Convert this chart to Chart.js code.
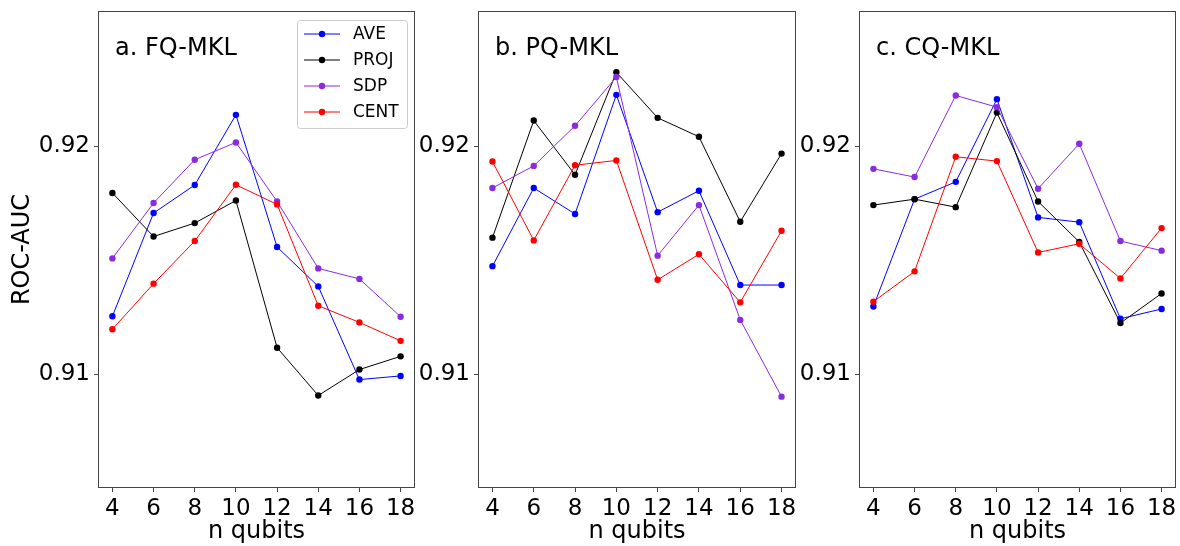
<!DOCTYPE html>
<html>
<head>
<meta charset="utf-8">
<script src="https://cdn.jsdelivr.net/npm/chart.js@4.4.0/dist/chart.umd.min.js"></script>
<style>
  body { margin: 0; background: #fff; }
  #wrap { position: relative; width: 1180px; height: 546px; background: #fff; }
  #wrap canvas { position: absolute; top: 0; }
</style>
</head>
<body>
<div id="wrap">
  <canvas id="c1" width="420" height="546" style="left:0px"></canvas>
  <canvas id="c2" width="380" height="546" style="left:420px"></canvas>
  <canvas id="c3" width="380" height="546" style="left:800px"></canvas>
</div>
<script>
// number of qubits on the x axis
const qubits = [4, 6, 8, 10, 12, 14, 16, 18];
const yTicks = [0.91, 0.92];

const seriesNames = ["AVE", "PROJ", "SDP", "CENT"];
const seriesColors = ["#0000ff", "#000000", "#8a2be2", "#ff0000"];

// a. FQ-MKL
const fqAve  = [0.91254, 0.91707, 0.91830, 0.92138, 0.91558, 0.91385, 0.90976, 0.90992];
const fqProj = [0.91795, 0.91604, 0.91663, 0.91762, 0.91116, 0.90906, 0.91020, 0.91078];
const fqSdp  = [0.91508, 0.91751, 0.91941, 0.92017, 0.91758, 0.91464, 0.91418, 0.91252];
const fqCent = [0.91197, 0.91397, 0.91584, 0.91831, 0.91745, 0.91300, 0.91227, 0.91146];

// b. PQ-MKL
const pqAve  = [0.91474, 0.91817, 0.91703, 0.92226, 0.91711, 0.91805, 0.91391, 0.91391];
const pqProj = [0.91599, 0.92113, 0.91875, 0.92325, 0.92125, 0.92042, 0.91669, 0.91968];
const pqSdp  = [0.91817, 0.91914, 0.92090, 0.92304, 0.91520, 0.91742, 0.91238, 0.90901];
const pqCent = [0.91933, 0.91587, 0.91917, 0.91938, 0.91414, 0.91526, 0.91315, 0.91629];

// c. CQ-MKL
const cqAve  = [0.91297, 0.91768, 0.91844, 0.92207, 0.91688, 0.91667, 0.91243, 0.91286];
const cqProj = [0.91742, 0.91768, 0.91733, 0.92148, 0.91758, 0.91580, 0.91224, 0.91354];
const cqSdp  = [0.91901, 0.91865, 0.92223, 0.92172, 0.91814, 0.92011, 0.91584, 0.91542];
const cqCent = [0.91318, 0.91451, 0.91954, 0.91935, 0.91534, 0.91572, 0.91420, 0.91641];

const FONT = "'DejaVu Sans', sans-serif";

// frame around the plot area + panel label + legend
const panelDecor = {
  id: "panelDecor",
  afterDraw(chart, args, opts) {
    const ctx = chart.ctx;
    const a = chart.chartArea;
    ctx.save();
    ctx.strokeStyle = "#444";
    ctx.lineWidth = 1;
    ctx.strokeRect(Math.round(a.left) + 0.5, Math.round(a.top) + 0.5,
      Math.round(a.right - a.left) - 1, Math.round(a.bottom - a.top) - 1);

    ctx.fillStyle = "#000";
    ctx.font = "24px " + FONT;
    ctx.textBaseline = "alphabetic";
    ctx.textAlign = "left";
    ctx.fillText(opts.label, a.left + 17, a.top + 44);

    if (opts.legend) {
      const bx = a.right - 8 - 110, by = a.top + 9, bw = 110, bh = 108;
      ctx.fillStyle = "rgba(255,255,255,0.8)";
      ctx.strokeStyle = "#cccccc";
      ctx.beginPath();
      ctx.roundRect(bx + 0.5, by + 0.5, bw, bh, 3);
      ctx.fill();
      ctx.stroke();
      ctx.font = "17px " + FONT;
      ctx.textBaseline = "middle";
      chart.data.datasets.forEach((ds, i) => {
        const cy = by + 14 + i * 26;
        ctx.strokeStyle = ds.borderColor;
        ctx.lineWidth = 1;
        ctx.beginPath();
        ctx.moveTo(bx + 7, cy);
        ctx.lineTo(bx + 43, cy);
        ctx.stroke();
        ctx.fillStyle = ds.borderColor;
        ctx.beginPath();
        ctx.arc(bx + 25, cy, 3.2, 0, Math.PI * 2);
        ctx.fill();
        ctx.fillStyle = "#000";
        ctx.fillText(ds.label, bx + 56, cy + 1);
      });
    }
    ctx.restore();
  }
};

function makePanel(id, label, values, opt) {
  const ctx = document.getElementById(id).getContext("2d");
  const datasets = values.map((vals, i) => ({
    label: seriesNames[i],
    data: qubits.map((q, k) => ({ x: q, y: vals[k] })),
    borderColor: seriesColors[i],
    backgroundColor: seriesColors[i],
    borderWidth: 1,
    pointRadius: 3.2,
    pointBorderWidth: 0,
    tension: 0,
    order: values.length - i,
  }));

  return new Chart(ctx, {
    type: "line",
    data: { datasets: datasets },
    plugins: [panelDecor],
    options: {
      responsive: false,
      animation: false,
      devicePixelRatio: 1,
      layout: { padding: { top: 11, right: opt.padRight, bottom: 0, left: 0 } },
      plugins: {
        legend: { display: false },
        tooltip: { enabled: false },
        panelDecor: { label: label, legend: opt.legend },
      },
      scales: {
        x: {
          type: "linear",
          min: 3.3,
          max: 18.7,
          afterBuildTicks: (axis) => { axis.ticks = qubits.map((v) => ({ value: v })); },
          afterFit: (axis) => { axis.height = 58; axis.paddingLeft = 0; axis.paddingRight = 0; },
          grid: { drawOnChartArea: false, drawTicks: true, tickLength: 4, color: "#444" },
          border: { display: false },
          ticks: { color: "#000", font: { family: FONT, size: 23 }, padding: 3, maxRotation: 0 },
          title: {
            display: true,
            text: "n qubits",
            color: "#000",
            font: { family: FONT, size: 24 },
            padding: { top: 0, bottom: 0 },
          },
        },
        y: {
          type: "linear",
          min: 0.905,
          max: 0.92594,
          afterBuildTicks: (axis) => { axis.ticks = yTicks.map((v) => ({ value: v })); },
          afterFit: (axis) => { axis.width = opt.yWidth; axis.paddingTop = 0; axis.paddingBottom = 0; },
          grid: { drawOnChartArea: false, drawTicks: true, tickLength: 4, color: "#444" },
          border: { display: false },
          ticks: {
            color: "#000",
            font: { family: FONT, size: 23 },
            padding: 4,
            callback: (v) => v.toFixed(2),
          },
          title: {
            display: opt.yTitle,
            text: "ROC-AUC",
            color: "#000",
            font: { family: FONT, size: 24 },
            padding: { top: 8, bottom: 0 },
          },
        },
      },
    },
  });
}

makePanel("c1", "a. FQ-MKL", [fqAve, fqProj, fqSdp, fqCent], { padRight: 5, yWidth: 98, yTitle: true, legend: true });
makePanel("c2", "b. PQ-MKL", [pqAve, pqProj, pqSdp, pqCent], { padRight: 4, yWidth: 58, yTitle: false, legend: false });
makePanel("c3", "c. CQ-MKL", [cqAve, cqProj, cqSdp, cqCent], { padRight: 4, yWidth: 59, yTitle: false, legend: false });
</script>
</body>
</html>
